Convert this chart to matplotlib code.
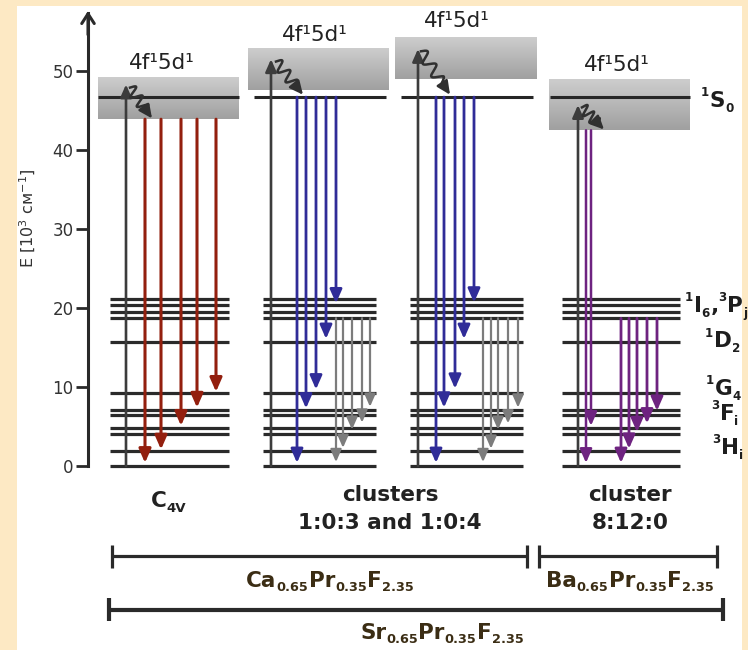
import numpy as np
import matplotlib
matplotlib.use('Agg')
import matplotlib.pyplot as plt
from matplotlib.patches import Rectangle
from matplotlib.colors import LinearSegmentedColormap

plt.rcParams['font.family'] = ['DejaVu Sans']
plt.rcParams['mathtext.fontset'] = 'dejavusans'

# ---------------- data (energies in 10^3 cm^-1) ----------------
levels = [0.0, 1.9, 4.1, 4.8, 6.5, 7.1, 9.2, 15.7, 18.7, 19.5, 20.4, 21.1]
s0_level = 46.7
yticks = [0, 10, 20, 30, 40, 50]
axis_top = 57.6

column_x = [(110, 229), (263, 376), (410, 523), (562, 680)]
band_x = [(98, 239), (248, 389), (395, 537), (549, 690)]
band_e = [(43.9, 49.2), (47.6, 52.8), (49.0, 54.3), (42.5, 48.9)]
s0_x = [(98, 239), (254, 386), (401, 533), (550, 690)]
band_label_x = [162, 315, 457, 617]
band_label_e = [51.0, 54.6, 56.3, 50.8]

excitation_x = [126, 271, 418, 578]
excitation_top = [48.3, 51.5, 52.8, 45.7]
wave_start = [(130, 47.9), (276, 51.2), (421, 52.5), (582, 45.4)]
wave_end = [(152, 44.0), (303, 47.0), (450, 47.0), (604, 42.6)]

red_x = [145, 161, 181, 197, 216]
red_start = 43.9
red_tip = [0.4, 2.1, 5.1, 7.4, 9.4]

blue2_x = [297, 306, 316, 326, 336]
blue2_tip = [0.4, 7.3, 9.7, 16.1, 20.6]
gray2_x = [336, 343, 352, 362, 370]
gray2_tip = [0.5, 2.3, 4.6, 5.5, 7.5]

blue3_x = [436, 444, 455, 464, 474]
blue3_tip = [0.4, 7.4, 9.8, 16.1, 20.7]
gray3_x = [483, 491, 498, 508, 518]
gray3_tip = [0.5, 2.2, 4.6, 5.4, 7.4]

purple1_x = [586, 591]
purple1_start = 42.5
purple1_tip = [0.4, 5.1]
purple2_x = [621, 629, 637, 647, 657]
purple2_tip = [0.4, 2.2, 4.3, 5.4, 7.0]
p_start = 18.7

# level labels as (text, kind) pieces: n = normal, sup, sub
level_labels = [[('1', 'sup'), ('S', 'n'), ('0', 'sub')],
                [('1', 'sup'), ('I', 'n'), ('6', 'sub'), (',', 'n'), ('3', 'sup'), ('P', 'n'), ('j', 'sub')],
                [('1', 'sup'), ('D', 'n'), ('2', 'sub')],
                [('1', 'sup'), ('G', 'n'), ('4', 'sub')],
                [('3', 'sup'), ('F', 'n'), ('i', 'sub')],
                [('3', 'sup'), ('H', 'n'), ('i', 'sub')]]
level_label_x = [701, 685, 705, 706, 711, 712]
level_label_e = [46.2, 20.3, 15.8, 9.8, 6.6, 2.3]

site_labels = [[('C', 'n'), ('4V', 'sub')],
               [('clusters', 'n')], [('1:0:3 and 1:0:4', 'n')],
               [('cluster', 'n')], [('8:12:0', 'n')]]
site_x = [169, 390, 390, 630, 630]
site_e = [-4.4, -3.7, -7.2, -3.7, -7.2]

bracket_x = [(112, 527), (539, 717), (109, 723)]
bracket_e = [-11.4, -11.4, -18.2]
bracket_lw = [2.3, 2.3, 3.0]
compound_labels = [[('Ca', 'n'), ('0.65', 'sub'), ('Pr', 'n'), ('0.35', 'sub'), ('F', 'n'), ('2.35', 'sub')],
                   [('Ba', 'n'), ('0.65', 'sub'), ('Pr', 'n'), ('0.35', 'sub'), ('F', 'n'), ('2.35', 'sub')],
                   [('Sr', 'n'), ('0.65', 'sub'), ('Pr', 'n'), ('0.35', 'sub'), ('F', 'n'), ('2.35', 'sub')]]
compound_x = [330, 630, 442]
compound_e = [-14.5, -14.5, -21.1]

# ---------------- figure ----------------
fig = plt.figure(figsize=(7.48, 6.5), dpi=100)
fig.patch.set_facecolor('#fde9c4')
ax = fig.add_axes([0, 0, 1, 1])
ax.patch.set_visible(False)
ax.set_xlim(0, 748)
ax.set_ylim(-23.29, 58.99)

# white panel
y_panel_bottom = ax.get_ylim()[0]
ax.add_patch(Rectangle((17, y_panel_bottom), 725, 58.2 - y_panel_bottom,
                       facecolor='white', edgecolor='none', zorder=0))

# energy axis (left spine)
for s in ['top', 'right', 'bottom']:
    ax.spines[s].set_visible(False)
ax.xaxis.set_visible(False)
ax.spines['left'].set_position(('data', 88))
ax.spines['left'].set_bounds(0, axis_top - 0.3)
ax.spines['left'].set_linewidth(2.2)
ax.spines['left'].set_color('#2a2a2a')
ax.set_yticks(yticks)
ax.tick_params(axis='y', direction='out', length=8.5, width=2.0, pad=2,
               labelsize=12, colors='#2a2a2a', labelcolor='#333333')
ax.annotate('', xy=(88, axis_top), xytext=(88, axis_top - 3),
            arrowprops=dict(arrowstyle='->,head_length=0.7,head_width=0.45',
                            lw=2.2, color='#2a2a2a', shrinkA=0, shrinkB=0))
ax.text(28, 31.3, 'E [10$^3$ см$^{-1}$]', rotation=90, ha='center', va='center',
        fontsize=11.5, color='#333333')

# gradient bands
cmap = LinearSegmentedColormap.from_list('band', ['#a0a0a0', '#cdcdcd'])
grad = np.linspace(0, 1, 64).reshape(-1, 1)
for (x0, x1), (e0, e1) in zip(band_x, band_e):
    ax.imshow(grad, extent=(x0, x1, e0, e1), origin='lower', aspect='auto',
              cmap=cmap, zorder=1, interpolation='bilinear')
ax.set_xlim(0, 748)
ax.set_ylim(-23.29, 58.99)

for (x0, x1) in s0_x:
    ax.plot([x0, x1], [s0_level, s0_level], color='#262626', lw=2.2, zorder=3,
            solid_capstyle='butt')
for xl, el in zip(band_label_x, band_label_e):
    ax.text(xl, el, '4f¹5d¹', ha='center', va='center', fontsize=15.5,
            color='#222222')

# level lines
for (x0, x1) in column_x:
    for e in levels:
        ax.plot([x0, x1], [e, e], color='#2a2a2a', lw=2.3, zorder=2,
                solid_capstyle='butt')


def varrow(x, e0, e1, color, lw, ms=11, z=4):
    ax.annotate('', xy=(x, e1), xytext=(x, e0),
                arrowprops=dict(arrowstyle='-|>,head_length=0.75,head_width=0.33',
                                color=color, lw=lw, mutation_scale=ms,
                                shrinkA=0, shrinkB=0), zorder=z)


# excitation arrows
for x, top in zip(excitation_x, excitation_top):
    varrow(x, 0, top, '#3c3c3c', 1.9, ms=10, z=3)

# wavy non-radiative arrows
fig.canvas.draw()
renderer = fig.canvas.get_renderer()
for (xs, es), (xe, ee) in zip(wave_start, wave_end):
    p0 = ax.transData.transform((xs, es))
    p1 = ax.transData.transform((xe, ee))
    d = p1 - p0
    L = np.hypot(*d)
    u = d / L
    nrm = np.array([-u[1], u[0]])
    t = np.linspace(0, 0.76, 300)
    amp = 5.5 * np.clip((0.76 - t) / 0.12, 0, 1)
    pts = p0[None, :] + t[:, None] * d[None, :] + (amp * np.sin(2 * np.pi * 3.4 * t))[:, None] * nrm[None, :]
    dp = ax.transData.inverted().transform(pts)
    ax.plot(dp[:, 0], dp[:, 1], color='#303030', lw=1.8, zorder=5)
    mid = ax.transData.inverted().transform(p0 + 0.72 * d)
    ax.annotate('', xy=(xe, ee), xytext=(mid[0], mid[1]),
                arrowprops=dict(arrowstyle='-|>,head_length=0.8,head_width=0.38',
                                color='#303030', lw=1.8, mutation_scale=10,
                                shrinkA=0, shrinkB=0), zorder=5)

# emission arrows
for x, tip in zip(red_x, red_tip):
    varrow(x, red_start, tip, '#931f0e', 2.2)
for x, tip in zip(blue2_x, blue2_tip):
    varrow(x, s0_level, tip, '#302c98', 2.0)
for x, tip in zip(gray2_x, gray2_tip):
    varrow(x, p_start, tip, '#7c7c7c', 1.6, ms=10)
for x, tip in zip(blue3_x, blue3_tip):
    varrow(x, s0_level, tip, '#302c98', 2.0)
for x, tip in zip(gray3_x, gray3_tip):
    varrow(x, p_start, tip, '#7c7c7c', 1.6, ms=10)
for x, tip in zip(purple1_x, purple1_tip):
    varrow(x, purple1_start, tip, '#6e2380', 1.8)
for x, tip in zip(purple2_x, purple2_tip):
    varrow(x, p_start, tip, '#6e2380', 2.0)


def rich_text(x, e, pieces, size, color, ha='left', small=0.58, sub_drop=0.36):
    """Place bold text pieces with small raised / lowered parts side by side."""
    texts = []
    offset = 0.0
    for s, kind in pieces:
        fs = size if kind == 'n' else size * small
        dy = {'n': 0.0, 'sup': size * 0.38, 'sub': -size * sub_drop}[kind]
        t = ax.annotate(s, xy=(x, e), xytext=(offset, dy), textcoords='offset points',
                        fontsize=fs, fontweight='bold', color=color,
                        ha='left', va='center', zorder=6)
        w = t.get_window_extent(renderer).width * 72.0 / fig.dpi
        texts.append((t, offset, dy))
        offset += w + (0.3 if kind != 'n' else 0.0)
    if ha == 'center':
        for t, off, dy in texts:
            t.xyann = (off - offset / 2.0, dy)
    return texts


# level labels
for pieces, xl, el in zip(level_labels, level_label_x, level_label_e):
    rich_text(xl, el, pieces, 15.5, '#1e1e1e', small=0.55)

# site labels
for pieces, xl, el in zip(site_labels, site_x, site_e):
    rich_text(xl, el, pieces, 15.5, '#222222', ha='center', small=0.62)

# brackets
for (x0, x1), e, lw in zip(bracket_x, bracket_e, bracket_lw):
    ax.plot([x0, x1], [e, e], color='#2a2a2a', lw=lw, solid_capstyle='butt')
    for xx in (x0, x1):
        ax.plot([xx, xx], [e - 1.45, e + 1.45], color='#2a2a2a', lw=lw,
                solid_capstyle='butt')

for pieces, xl, el in zip(compound_labels, compound_x, compound_e):
    rich_text(xl, el, pieces, 15.5, '#3b2d14', ha='center', small=0.6, sub_drop=0.3)

fig.savefig('out.png', dpi=100, facecolor=fig.get_facecolor())
